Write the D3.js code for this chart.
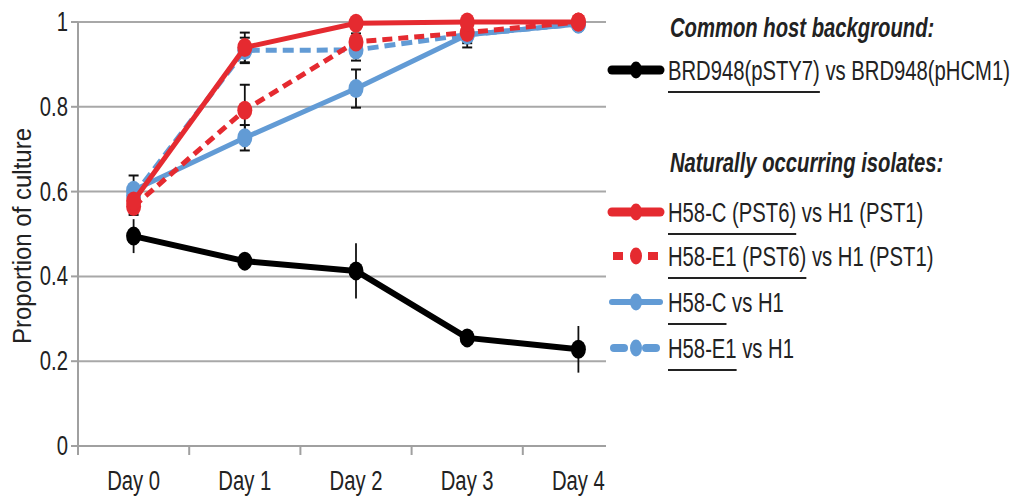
<!DOCTYPE html>
<html>
<head>
<meta charset="utf-8">
<script src="https://cdn.jsdelivr.net/npm/d3@7"></script>
<style>
  body { margin: 0; background: #fff; }
  svg text { font-family: 'Liberation Sans Narrow', 'Arial Narrow', 'Liberation Sans', sans-serif; fill: #222; }
</style>
</head>
<body>
<svg id="svg" width="1019" height="496"></svg>
<script>
// values
var days = ['Day 0', 'Day 1', 'Day 2', 'Day 3', 'Day 4'];
var yTicks = [0, 0.2, 0.4, 0.6, 0.8, 1];

var brd = [0.495, 0.436, 0.413, 0.255, 0.228];
var brdErr = [0.04, 0.01, 0.065, 0.01, 0.055];
var h58cPst = [0.578, 0.94, 0.997, 1.0, 1.0];
var h58cPstErr = [0.02, 0.035, 0.005, 0.005, 0.005];
var h58e1Pst = [0.565, 0.792, 0.953, 0.975, 1.0];
var h58e1PstErr = [0.02, 0.06, 0.02, 0.01, 0.005];
var h58c = [0.603, 0.727, 0.843, 0.97, 0.995];
var h58cErr = [0.035, 0.03, 0.045, 0.02, 0.005];
var h58e1 = [0.59, 0.933, 0.934, 0.97, 0.995];
var h58e1Err = [0.02, 0.03, 0.025, 0.03, 0.005];

var legendTitles = ['Common host background:', 'Naturally occurring isolates:'];
var legendUnder = ['BRD948(pSTY7)', 'H58-C (PST6)', 'H58-E1 (PST6)', 'H58-C', 'H58-E1'];
var legendRest = [' vs BRD948(pHCM1)', ' vs H1 (PST1)', ' vs H1 (PST1)', ' vs H1', ' vs H1'];

var RED = '#e52a30', BLUE = '#629bd5', BLACK = '#000';
// the picture's font is a narrow one, squeezed sideways and a bit tall
var sx = 0.81;
var stretch = 'scale(' + sx + ',1.12)';

var svg = d3.select('svg');

var x = d3.scaleBand().domain(days).range([78, 634]);
var y = d3.scaleLinear().domain([0, 1]).range([446, 22]);
var plotRight = 606;

// grid
svg.selectAll('.grid')
    .data(yTicks.filter(function(d){ return d > 0; }))
    .enter()
    .append('line')
    .attr('x1', 78).attr('x2', plotRight)
    .attr('y1', function(d){ return y(d); })
    .attr('y2', function(d){ return y(d); })
    .attr('stroke', '#a8a8a8')
    .attr('stroke-width', 2);

// axes
svg.append('line').attr('x1', 78).attr('x2', 78).attr('y1', y(1)).attr('y2', y(0))
    .attr('stroke', '#a0a0a0').attr('stroke-width', 2);
svg.append('line').attr('x1', 71).attr('x2', plotRight).attr('y1', y(0)).attr('y2', y(0))
    .attr('stroke', '#a0a0a0').attr('stroke-width', 2);
svg.selectAll('.ytick')
    .data(yTicks.filter(function(d){ return d > 0; }))
    .enter()
    .append('line')
    .attr('x1', 71).attr('x2', 78)
    .attr('y1', function(d){ return y(d); })
    .attr('y2', function(d){ return y(d); })
    .attr('stroke', '#a0a0a0').attr('stroke-width', 2);
svg.selectAll('.xtick')
    .data(days)
    .enter()
    .append('line')
    .attr('x1', function(d){ return x(d); })
    .attr('x2', function(d){ return x(d); })
    .attr('y1', y(0)).attr('y2', y(0) + 9)
    .attr('stroke', '#a0a0a0').attr('stroke-width', 2);

svg.selectAll('.ylab')
    .data(yTicks)
    .enter()
    .append('g')
    .attr('transform', function(d){ return 'translate(68,' + (y(d) + 9) + ')'; })
    .append('text')
    .attr('transform', stretch)
    .attr('text-anchor', 'end')
    .attr('font-size', 25)
    .text(function(d){ return d === 0 || d === 1 ? d : d.toFixed(1); });

svg.selectAll('.xlab')
    .data(days)
    .enter()
    .append('g')
    .attr('transform', function(d){ return 'translate(' + (x(d) + x.bandwidth() / 2) + ',490)'; })
    .append('text')
    .attr('transform', stretch)
    .attr('text-anchor', 'middle')
    .attr('font-size', 25)
    .text(function(d){ return d; });

svg.append('text')
    .attr('transform', 'translate(31,236) rotate(-90) scale(1.0,1.1)')
    .attr('text-anchor', 'middle')
    .attr('font-size', 24)
    .text('Proportion of culture');

// series
var series = [
    { v: brd, e: brdErr, color: BLACK, width: 6, dash: null, cap: false },
    { v: h58c, e: h58cErr, color: BLUE, width: 5, dash: null, cap: true },
    { v: h58e1, e: h58e1Err, color: BLUE, width: 5, dash: '11,6', cap: true },
    { v: h58e1Pst, e: h58e1PstErr, color: RED, width: 5, dash: '10,6', cap: true },
    { v: h58cPst, e: h58cPstErr, color: RED, width: 5, dash: null, cap: true }
];

var cx = function(i){ return x(days[i]) + x.bandwidth() / 2; };

series.forEach(function(s){
    var pts = s.v.map(function(v, i){ return { i: i, v: v, e: s.e[i] }; });
    var g = svg.append('g');
    g.selectAll('line.err')
        .data(pts)
        .enter()
        .append('line')
        .attr('x1', function(d){ return cx(d.i); })
        .attr('x2', function(d){ return cx(d.i); })
        .attr('y1', function(d){ return y(Math.min(1.0, d.v + d.e)); })
        .attr('y2', function(d){ return y(d.v - d.e); })
        .attr('stroke', '#111').attr('stroke-width', 1.8);
    if (s.cap) {
        [1, -1].forEach(function(sgn){
            g.selectAll('line.cap' + sgn)
                .data(pts.filter(function(d){ return d.v + sgn * d.e < 1; }))
                .enter()
                .append('line')
                .attr('x1', function(d){ return cx(d.i) - 5; })
                .attr('x2', function(d){ return cx(d.i) + 5; })
                .attr('y1', function(d){ return y(d.v + sgn * d.e); })
                .attr('y2', function(d){ return y(d.v + sgn * d.e); })
                .attr('stroke', '#111').attr('stroke-width', 2);
        });
    }
});

series.forEach(function(s){
    var pts = s.v.map(function(v, i){ return { i: i, v: v }; });
    var line = d3.line()
        .x(function(d){ return cx(d.i); })
        .y(function(d){ return y(d.v); });
    svg.append('path')
        .datum(pts)
        .attr('d', line)
        .attr('fill', 'none')
        .attr('stroke', s.color)
        .attr('stroke-width', s.width)
        .attr('stroke-linejoin', 'round')
        .attr('stroke-dasharray', s.dash);
    svg.selectAll(null)
        .data(pts)
        .enter()
        .append('ellipse')
        .attr('cx', function(d){ return cx(d.i); })
        .attr('cy', function(d){ return y(d.v); })
        .attr('rx', 7.5).attr('ry', 9.5)
        .attr('fill', s.color);
});

// legend
var legX = 668;
svg.selectAll('.ltitle')
    .data(legendTitles)
    .enter()
    .append('g')
    .attr('transform', function(d, i){ return 'translate(' + (legX + 2) + ',' + [37, 172][i] + ')'; })
    .append('text')
    .attr('transform', stretch)
    .attr('font-size', 25)
    .attr('font-weight', 'bold')
    .attr('font-style', 'italic')
    .text(function(d){ return d; });

var legY = [70, 212, 256, 302, 348];
legendUnder.forEach(function(u, i){
    var s = series[[0, 4, 3, 1, 2][i]];
    var cy = legY[i];
    var g = svg.append('g');
    if (s.dash) {
        var segs = s.color === RED ? [[613, 623], [648, 658]] : [[614, 624], [646, 656]];
        segs.forEach(function(sg){
            g.append('line').attr('x1', sg[0]).attr('x2', sg[1]).attr('y1', cy).attr('y2', cy)
                .attr('stroke', s.color).attr('stroke-width', 8)
                .attr('stroke-linecap', s.color === BLUE ? 'round' : 'butt');
        });
    } else {
        g.append('line').attr('x1', 612).attr('x2', 660).attr('y1', cy).attr('y2', cy)
            .attr('stroke', s.color).attr('stroke-width', s.color === BLUE ? 6 : 9)
            .attr('stroke-linecap', 'round');
    }
    g.append('ellipse').attr('cx', 636).attr('cy', cy).attr('rx', 6).attr('ry', 8.5).attr('fill', s.color);

    var t = g.append('g').attr('transform', 'translate(' + legX + ',' + (cy + 10) + ')')
        .append('text').attr('transform', stretch).attr('font-size', 25);
    var first = t.append('tspan').text(u);
    t.append('tspan').text(legendRest[i]);
    var w = first.node().getComputedTextLength() * sx;
    g.append('line').attr('x1', legX).attr('x2', legX + w)
        .attr('y1', cy + 22).attr('y2', cy + 22)
        .attr('stroke', '#222').attr('stroke-width', 2);
});
</script>
</body>
</html>
